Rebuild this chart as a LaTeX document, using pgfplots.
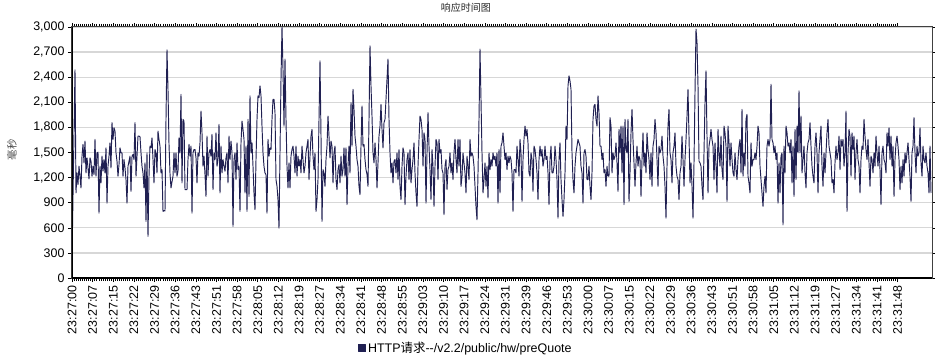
\documentclass[border=0pt]{standalone}
\usepackage{pgfplots}
\pgfplotsset{compat=1.18}
\usepackage{pgfplotstable}
\usepackage{fontspec}
\setmainfont{Liberation Sans}
\newfontfamily\cjk{Noto Sans CJK SC}
\definecolor{navy}{RGB}{32,32,82}
\definecolor{gridc}{RGB}{215,215,215}

\pgfplotstableread{
x y
0 216
3 2488
4 1016
5 1256
6 1116
7 1336
8 1216
9 1076
10 1456
11 1596
12 1376
13 1636
14 1256
15 1436
16 1316
17 1184
18 1436
19 1396
20 1216
21 1336
22 1236
23 1656
24 1216
25 1496
26 1504
27 776
28 1336
29 1136
30 1456
31 1276
32 1416
33 1256
34 1556
35 896
36 1336
37 1456
38 1616
39 1316
40 1856
41 1656
42 1796
43 1756
44 1496
45 1396
46 1216
47 1356
48 1556
49 1496
50 1496
51 1216
52 1416
53 1316
54 1176
55 896
56 1336
57 1396
58 1456
59 1036
60 1456
61 1476
62 1416
63 1856
64 1216
65 1456
66 1696
67 1696
68 1688
69 1496
70 1336
71 1256
72 1076
73 1376
74 676
75 1496
76 496
77 1216
78 1576
79 1556
80 1676
81 1416
82 1136
83 1536
84 1496
85 1256
86 1756
87 1656
88 1576
89 1256
90 1296
91 796
92 808
93 800
94 1900
95 2728
96 2250
97 1600
98 1250
99 1076
100 1150
101 1216
102 1496
103 1256
104 1496
105 1216
106 1276
107 1676
108 1496
109 2196
110 1136
111 1896
112 1876
113 1056
114 1056
115 1056
116 1416
117 1596
118 1456
119 1576
120 776
121 1496
122 1536
123 1536
124 1436
125 1136
126 1496
127 1456
128 1616
129 1996
130 1736
131 1336
132 1456
133 1236
134 976
135 1696
136 1216
137 1496
138 1536
139 1456
140 1716
141 1056
142 1496
143 1416
144 1736
145 1336
146 1416
147 1836
148 1016
149 1576
150 1256
151 1416
152 1336
153 1276
154 1436
155 1496
156 1136
157 1696
158 1416
159 1636
160 1496
161 616
162 1416
163 1496
164 1176
165 1616
166 1296
167 1336
168 796
169 1616
170 1876
171 1776
172 1656
173 1016
174 1576
175 796
176 1896
177 976
178 2176
179 1496
180 1616
181 1336
182 1016
183 816
184 1416
185 1896
186 2176
187 2156
188 2296
189 2176
190 1816
191 1496
192 1336
193 1256
194 1236
195 776
196 1656
197 1456
198 1556
199 1536
200 1896
201 2136
202 2136
203 1976
204 1176
205 1096
206 936
207 596
208 1496
209 2376
210 3000
211 2496
212 1816
213 2616
214 1896
215 1336
216 1076
217 1376
218 1076
219 1456
220 1536
221 1576
222 1456
223 1256
224 1576
225 1216
226 1456
227 1336
228 1416
229 1256
230 1576
231 1416
232 1256
233 1336
234 1496
235 1576
236 1656
237 1176
238 1456
239 1696
240 1776
241 1456
242 1296
243 1496
244 796
245 936
246 1176
247 1896
248 2596
249 1696
250 676
251 1296
252 1256
253 1096
254 1416
255 1576
256 1936
257 1696
258 1436
259 1636
260 1576
261 1136
262 1496
263 1576
264 1176
265 1056
266 1296
267 1356
268 1136
269 1456
270 1216
271 1296
272 1556
273 1216
274 1556
275 876
276 1336
277 1576
278 1256
279 2096
280 1576
281 2256
282 2016
283 1696
284 1576
285 1416
286 1336
287 1096
288 996
289 1576
290 2056
291 1576
292 1596
293 1416
294 1296
295 1236
296 1096
297 1896
298 2776
299 2296
300 1936
301 1496
302 1376
303 1616
304 1416
305 1076
306 1376
307 1696
308 1816
309 2076
310 1776
311 1556
312 1856
313 1896
314 2136
315 2376
316 2616
317 1896
318 1496
319 1256
320 1376
321 1136
322 1396
323 1416
324 1256
325 1496
326 1176
327 1536
328 1096
329 936
330 1336
331 1556
332 1496
333 876
334 1216
335 1416
336 1496
337 1176
338 1536
339 1136
340 1296
341 1416
342 1616
343 1256
344 1016
345 856
346 1336
347 1656
348 1936
349 1896
350 1776
351 1336
352 1736
353 1656
354 896
355 1496
356 1976
357 1576
358 1296
359 936
360 1536
361 1336
362 856
363 1336
364 1656
365 1616
366 1176
367 1656
368 1496
369 1536
370 1296
371 1256
372 756
373 1336
374 1416
375 1056
376 1296
377 1336
378 1496
379 1256
380 1376
381 1176
382 1496
383 1656
384 1416
385 1256
386 1656
387 1336
388 1656
389 1096
390 1216
391 1496
392 1376
393 1256
394 1016
395 1456
396 1336
397 1176
398 1656
399 1456
400 1496
401 1456
402 1336
403 1096
404 856
405 696
406 1256
407 1896
408 2736
409 2136
410 1496
411 1016
412 1176
413 1376
414 1096
415 1336
416 956
417 1496
418 1296
419 1416
420 1336
421 1496
422 1416
423 1456
424 1336
425 1496
426 896
427 1536
428 1016
429 1576
430 1616
431 1736
432 1576
433 1416
434 1496
435 1296
436 1456
437 1376
438 1456
439 1416
440 1256
441 796
442 1296
443 1296
444 1256
445 1576
446 1416
447 1216
448 1656
449 1496
450 916
451 1416
452 1656
453 1816
454 1696
455 1776
456 1616
457 1256
458 1216
459 1496
460 1416
461 1036
462 1576
463 1536
464 1416
465 1256
466 936
467 1416
468 1576
469 1456
470 1536
471 1336
472 1416
473 1576
474 1416
475 1456
476 1256
477 876
478 1416
479 1576
480 1256
481 1256
482 1336
483 1576
484 1416
485 1176
486 716
487 1416
488 1616
489 1176
490 936
491 736
492 936
493 1256
494 1816
495 1656
496 2296
497 2416
498 2356
499 2256
500 1496
501 1176
502 1016
503 1336
504 1496
505 1576
506 1656
507 1616
508 1576
509 1336
510 1256
511 896
512 1496
513 1536
514 1456
515 1176
516 1176
517 1336
518 1096
519 936
520 1256
521 1896
522 2056
523 2076
524 1896
525 1816
526 2176
527 1976
528 1576
529 1576
530 1416
531 1496
532 1256
533 1296
534 1096
535 1336
536 1216
537 1216
538 1916
539 1816
540 1256
541 1496
542 1416
543 1456
544 1616
545 1376
546 1036
547 1776
548 1496
549 1816
550 1256
551 1816
552 876
553 1896
554 1536
555 1496
556 1896
557 916
558 1256
559 1736
560 2016
561 1656
562 1376
563 1096
564 1376
565 1576
566 1336
567 1456
568 1416
569 976
570 1416
571 1736
572 1336
573 1496
574 1256
575 1736
576 1536
577 1416
578 1176
579 1496
580 1096
581 1576
582 1656
583 1896
584 1736
585 1416
586 1096
587 1576
588 1496
589 1536
590 1696
591 1456
592 1336
593 1096
594 716
595 1336
596 1816
597 2016
598 1496
599 1416
600 1136
601 1496
602 1576
603 1736
604 1336
605 1216
606 1176
607 936
608 1256
609 1336
610 1696
611 1416
612 1096
613 1416
614 1656
615 1936
616 2256
617 1696
618 1136
619 1376
620 1096
621 716
622 1376
623 2216
624 2976
625 2816
626 2296
627 1396
628 1376
629 1336
630 1096
631 936
632 1496
633 2096
634 2476
635 1696
636 1016
637 1576
638 1656
639 1776
640 1656
641 1576
642 1176
643 1616
644 1336
645 1016
646 1776
647 1496
648 1336
649 1696
650 1296
651 1176
652 1816
653 1736
654 1576
655 916
656 1816
657 1616
658 1336
659 1616
660 1416
661 1256
662 1216
663 1496
664 1296
665 1176
666 1416
667 1576
668 1656
669 1256
670 2016
671 1216
672 1496
673 1336
674 1896
675 1956
676 1216
677 1136
678 1016
679 1616
680 1336
681 1416
682 1416
683 1496
684 1416
685 1576
686 1816
687 1736
688 1336
689 1176
690 1016
691 856
692 1096
693 1216
694 1016
695 1576
696 1656
697 1576
698 1656
699 2316
700 1656
701 1616
702 1496
703 1576
704 1416
705 1496
706 896
707 1376
708 1016
709 1456
710 1496
711 636
712 1576
713 1256
714 1816
715 1736
716 1576
717 1616
718 1496
719 1656
720 1136
721 1576
722 976
723 1776
724 1176
725 1816
726 1496
727 2236
728 1496
729 1936
730 1256
731 1416
732 1576
733 1256
734 1076
735 1496
736 1616
737 1656
738 1856
739 1576
740 1336
741 1216
742 1136
743 1576
744 1736
745 1496
746 1016
747 1496
748 1656
749 1816
750 1336
751 1096
752 1496
753 1256
754 1496
755 1736
756 1896
757 1576
758 1496
759 1416
760 1136
761 1176
762 1016
763 1376
764 1576
765 1416
766 1496
767 1696
768 1296
769 1656
770 1576
771 1656
772 1336
773 1496
774 1996
775 796
776 1496
777 1776
778 1696
779 1216
780 1736
781 1536
782 1696
783 1176
784 1496
785 1656
786 1416
787 1336
788 1016
789 1416
790 1576
791 1536
792 1896
793 1696
794 1536
795 1416
796 1656
797 1376
798 1096
799 1456
800 1416
801 1256
802 1496
803 1336
804 1696
805 1496
806 1336
807 1576
808 1296
809 876
810 1496
811 1576
812 1416
813 1376
814 1256
815 1736
816 1576
817 1796
818 1416
819 1696
820 1336
821 1576
822 976
823 1416
824 1616
825 1696
826 1576
827 1416
828 1056
829 1336
830 1136
831 1416
832 1216
833 1496
834 1376
835 1496
836 1616
837 1416
838 1216
839 916
840 1496
841 1576
842 1916
843 1496
844 1256
845 1576
846 1456
847 1496
848 1796
849 1376
850 1216
851 1576
852 1416
853 1376
854 1496
855 1336
856 1256
857 1016
858 1576
859 1016
}\resp

\begin{document}
\begin{tikzpicture}
\begin{axis}[
  scale only axis,
  width=860bp, height=251bp,
  xmin=0, xmax=860, ymin=0, ymax=3000,
  ytick={0,300,...,3000},
  xtick={0,20.64,...,826},
  xticklabels={23:27:00,23:27:07,23:27:15,23:27:22,23:27:29,23:27:36,23:27:43,23:27:51,23:27:58,23:28:05,23:28:12,23:28:19,23:28:27,23:28:34,23:28:41,23:28:48,23:28:55,23:29:03,23:29:10,23:29:17,23:29:24,23:29:31,23:29:39,23:29:46,23:29:53,23:30:00,23:30:07,23:30:15,23:30:22,23:30:29,23:30:36,23:30:43,23:30:51,23:30:58,23:31:05,23:31:12,23:31:19,23:31:27,23:31:34,23:31:41,23:31:48},
  minor x tick num=9,
  tick align=outside,
  major tick length=4bp,
  minor tick length=3bp,
  tick style={black, line width=0.6bp},
  xticklabel style={rotate=90, anchor=east, font=\fontsize{12.5}{13}\selectfont},
  yticklabel style={font=\fontsize{12.5}{13}\selectfont},
  /pgf/number format/1000 sep={,},
  /pgf/number format/assume math mode=true,
  scaled y ticks=false,
  ymajorgrids,
  grid style={gridc, line width=1.3bp},
  axis line style={black!75, line width=1bp},
  every axis title shift=0pt,
  title={\cjk 响应时间图},
  title style={at={(axis description cs:0.458,1.076)}, anchor=center, font=\fontsize{10}{12}\selectfont, text=black!85},
  ylabel={\cjk 毫秒},
  ylabel style={at={(axis description cs:-0.07,0.51)}, anchor=center, font=\fontsize{10.5}{12}\selectfont, text=black!70},
  legend style={at={(axis description cs:0.458,-0.279)}, anchor=center, draw=none, fill=none, font=\fontsize{12.5}{14}\selectfont},
  legend image code/.code={\fill[navy] (0bp,-3.5bp) rectangle (7bp,3.5bp);},
]
\addplot[navy, line width=0.95bp, line join=round] table[x=x,y=y]{\resp};
\addlegendentry{HTTP{\cjk 请求}-{}-/v2.2/public/hw/preQuote}
\draw[black, line width=1.5bp] (rel axis cs:0,1) -- (rel axis cs:0,0) -- (rel axis cs:1,0);
\end{axis}
\pgfresetboundingbox
\path[use as bounding box] ([shift={(-72bp,-78bp)}]current axis.south west) rectangle ([shift={(3bp,27bp)}]current axis.north east);
\end{tikzpicture}
\end{document}
